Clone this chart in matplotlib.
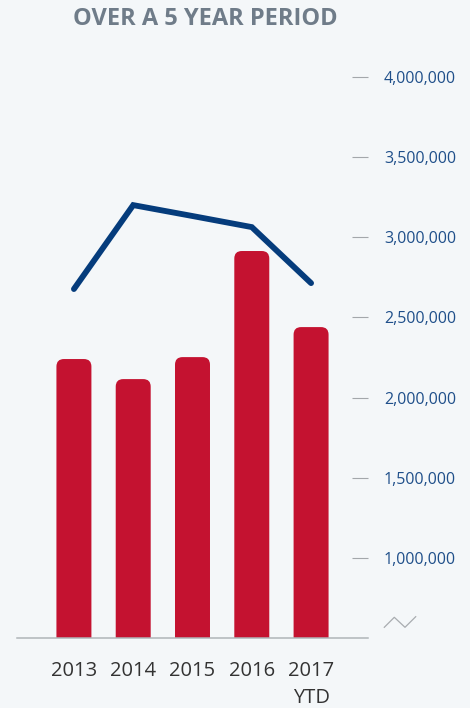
import numpy as np
import matplotlib
matplotlib.use('Agg')
import matplotlib.pyplot as plt
from matplotlib.patches import FancyBboxPatch
from matplotlib.lines import Line2D
import matplotlib.ticker as mtick

years = ['2013', '2014', '2015', '2016', '2017\nYTD']
bar_values = [2240000, 2115000, 2252000, 2913000, 2439000]
line_values = [2676000, 3199000, 3131000, 3062000, 2713000]
y_ticks = [1000000, 1500000, 2000000, 2500000, 3000000, 3500000, 4000000]

bg = '#f4f7f9'
bar_color = '#c41230'
line_color = '#053c7c'

plt.rcParams['font.family'] = ['Open Sans', 'DejaVu Sans']

W, H = 470, 708
fig = plt.figure(figsize=(W / 100, H / 100), dpi=100)
fig.patch.set_facecolor(bg)

# axes box in pixels
left_px, right_px = 17, 368
bottom_px, top_px = 638.3, 44.45
ax = fig.add_axes([left_px / W, 1 - bottom_px / H,
                   (right_px - left_px) / W, (bottom_px - top_px) / H])
ax.set_facecolor(bg)

x = np.arange(len(years))
ax.set_xlim(-0.96, 4.96)
ax.set_ylim(500000, 4200000)

bars = ax.bar(x, bar_values, width=0.59, color=bar_color, zorder=2)

# swap square bars for rounded ones
x_per_px = (ax.get_xlim()[1] - ax.get_xlim()[0]) / (right_px - left_px)
y_per_px = (ax.get_ylim()[1] - ax.get_ylim()[0]) / (bottom_px - top_px)
r = 7.5 * x_per_px
for b in bars:
    rb = FancyBboxPatch((b.get_x(), b.get_y()), b.get_width(), b.get_height(),
                        boxstyle='round,pad=0,rounding_size=%f' % r,
                        mutation_aspect=y_per_px / x_per_px,
                        facecolor=bar_color, edgecolor='none', zorder=2)
    ax.add_patch(rb)
    b.set_visible(False)

ax.plot(x, line_values, color=line_color, linewidth=4.2,
        solid_capstyle='round', solid_joinstyle='miter', zorder=3)

for s in ['top', 'left', 'right']:
    ax.spines[s].set_visible(False)
ax.spines['bottom'].set_color('#b0b5b9')
ax.spines['bottom'].set_linewidth(1.1)

ax.set_xticks(x)
ax.set_xticklabels(years, fontsize=14.5, color='#333333', linespacing=1.5)
ax.tick_params(axis='x', length=0, pad=16)

ax.yaxis.tick_right()
ax.set_yticks(y_ticks)
ax.yaxis.set_major_formatter(mtick.StrMethodFormatter('{x:,.0f}'))
ax.tick_params(axis='y', direction='in', length=11.5, width=0.8,
               color='#a3a7ab', pad=11.5, labelsize=11.5, labelcolor='#1f4f8a')

fig.text(205 / W, 1 - 19 / H, 'OVER A 5 YEAR PERIOD', ha='center', va='center',
         fontsize=17, fontweight='bold', color='#6f7c89')

# axis break mark
zx = [384.3, 394.3, 405, 415.7]
zy = [627.3, 617.3, 627.3, 616.7]
fig.add_artist(Line2D([v / W for v in zx], [1 - v / H for v in zy],
                      transform=fig.transFigure, color='#a8acb0', linewidth=0.9))

fig.savefig('out.png', dpi=100, facecolor=bg)
